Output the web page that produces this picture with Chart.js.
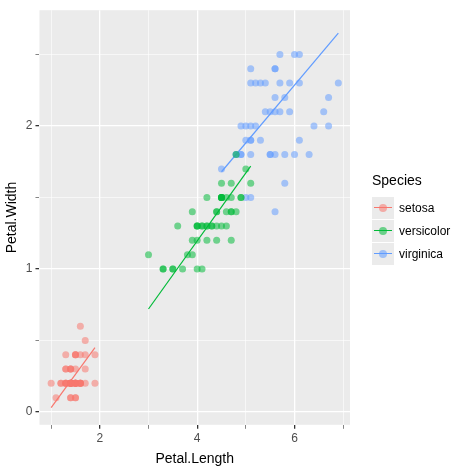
<!DOCTYPE html>
<html><head><meta charset="utf-8">
<script src="https://cdn.jsdelivr.net/npm/chart.js@4"></script>
<style>body{margin:0;background:#fff;font-family:"Liberation Sans",Arial,sans-serif}
#wrap{position:relative;width:472px;height:472px}
#leg{position:absolute;left:372px;top:172px;font-size:14px;color:#000}
.it{display:flex;align-items:center;height:23px;font-size:12px}
.k{width:22px;height:22px;background:#EBEBEB;position:relative;margin-right:5px}
.k i{position:absolute;left:2px;right:2px;top:10px;height:1.5px}
.k b{position:absolute;left:7px;top:7px;width:8px;height:8px;border-radius:50%;opacity:.55}
</style></head><body>
<div id="wrap"><canvas id="c" width="472" height="472"></canvas>
<div id="leg"><div style="margin-bottom:8px">Species</div></div></div>
<script>
const species=["setosa","versicolor","virginica"];
const colors=["#F8766D","#00BA38","#619CFF"];
const setosaLen=[1.4,1.4,1.3,1.5,1.4,1.7,1.4,1.5,1.4,1.5,1.5,1.6,1.4,1.1,1.2,1.5,1.3,1.4,1.7,1.5,1.7,1.5,1.0,1.7,1.9,1.6,1.6,1.5,1.4,1.6,1.6,1.5,1.5,1.4,1.5,1.2,1.3,1.4,1.3,1.5,1.3,1.3,1.3,1.6,1.9,1.4,1.6,1.4,1.5,1.4];
const setosaWid=[0.2,0.2,0.2,0.2,0.2,0.4,0.3,0.2,0.2,0.1,0.2,0.2,0.1,0.1,0.2,0.4,0.4,0.3,0.3,0.3,0.2,0.4,0.2,0.5,0.2,0.2,0.4,0.2,0.2,0.2,0.2,0.4,0.1,0.2,0.2,0.2,0.2,0.1,0.2,0.2,0.3,0.3,0.2,0.6,0.4,0.3,0.2,0.2,0.2,0.2];
const versLen=[4.7,4.5,4.9,4.0,4.6,4.5,4.7,3.3,4.6,3.9,3.5,4.2,4.0,4.7,3.6,4.4,4.5,4.1,4.5,3.9,4.8,4.0,4.9,4.7,4.3,4.4,4.8,5.0,4.5,3.5,3.8,3.7,3.9,5.1,4.5,4.5,4.7,4.4,4.1,4.0,4.4,4.6,4.0,3.3,4.2,4.2,4.2,4.3,3.0,4.1];
const versWid=[1.4,1.5,1.5,1.3,1.5,1.3,1.6,1.0,1.3,1.4,1.0,1.5,1.0,1.4,1.3,1.4,1.5,1.0,1.5,1.1,1.8,1.3,1.5,1.2,1.3,1.4,1.4,1.7,1.5,1.0,1.1,1.0,1.2,1.6,1.5,1.6,1.5,1.3,1.3,1.3,1.2,1.4,1.2,1.0,1.3,1.2,1.3,1.3,1.1,1.3];
const virgLen=[6.0,5.1,5.9,5.6,5.8,6.6,4.5,6.3,5.8,6.1,5.1,5.3,5.5,5.0,5.1,5.3,5.5,6.7,6.9,5.0,5.7,4.9,6.7,4.9,5.7,6.0,4.8,4.9,5.6,5.8,6.1,6.4,5.6,5.1,5.6,6.1,5.6,5.5,4.8,5.4,5.6,5.1,5.1,5.9,5.7,5.2,5.0,5.2,5.4,5.1];
const virgWid=[2.5,1.9,2.1,1.8,2.2,2.1,1.7,1.8,1.8,2.5,2.0,1.9,2.1,2.0,2.4,2.3,1.8,2.2,2.3,1.5,2.3,2.0,2.0,1.8,2.1,1.8,1.8,1.8,2.1,1.6,1.9,2.0,2.2,1.5,1.4,2.3,2.4,1.8,1.8,2.1,2.4,2.3,1.9,2.3,2.5,2.3,1.9,2.0,2.3,1.8];
// fitted line endpoints
const lineX=[[1.0,1.9],[3.0,5.1],[4.5,6.9]];
const lineY=[[0.03,0.45],[0.72,1.72],[1.68,2.65]];
const lens=[setosaLen,versLen,virgLen], wids=[setosaWid,versWid,virgWid];
const ds=[];
species.forEach((s,i)=>{
  ds.push({type:'scatter',data:lens[i].map((x,j)=>({x,y:wids[i][j]})),backgroundColor:colors[i]+'88',borderColor:colors[i]+'88',pointRadius:3.5,borderWidth:0});
});
species.forEach((s,i)=>{
  ds.push({type:'line',data:lineX[i].map((x,j)=>({x,y:lineY[i][j]})),borderColor:colors[i],borderWidth:1.2,pointRadius:0,fill:false});
});
const leg=document.getElementById('leg');
species.forEach((s,i)=>{leg.insertAdjacentHTML('beforeend',`<div class="it"><div class="k"><i style="background:${colors[i]}"></i><b style="background:${colors[i]}"></b></div>${s}</div>`)});
const bg={id:'bg',beforeDraw(c){const a=c.chartArea,x=c.ctx;x.save();x.fillStyle='#EBEBEB';x.fillRect(a.left,a.top,a.right-a.left,a.bottom-a.top);x.restore();}};
const tickFont={size:12,family:'"Liberation Sans",Arial'};
new Chart(document.getElementById('c'),{type:'scatter',data:{datasets:ds},plugins:[bg],
options:{responsive:false,animation:false,layout:{padding:{left:0,right:122,top:5,bottom:0}},
plugins:{legend:{display:false},tooltip:{enabled:false}},
scales:{
x:{type:'linear',min:0.76,max:7.14,afterBuildTicks(s){s.ticks=[1,2,3,4,5,6,7].map(v=>({value:v}));},
 ticks:{color:'#4D4D4D',font:tickFont,callback:v=>v%2===0?v:''},
 grid:{color:'#fff',lineWidth:c=>c.tick&&c.tick.value%2===0?1.3:0.6,drawTicks:true,tickLength:4,tickColor:'#333'},border:{display:false},
 title:{display:true,text:'Petal.Length',color:'#000',font:{size:14,family:'"Liberation Sans",Arial'},padding:{top:2}}},
y:{type:'linear',min:-0.09,max:2.81,afterBuildTicks(s){s.ticks=[0,0.5,1,1.5,2,2.5].map(v=>({value:v}));},
 ticks:{color:'#4D4D4D',font:tickFont,callback:v=>Number.isInteger(v)?v:''},
 grid:{color:'#fff',lineWidth:c=>c.tick&&Number.isInteger(c.tick.value)?1.3:0.6,drawTicks:true,tickLength:4,tickColor:'#333'},border:{display:false},
 title:{display:true,text:'Petal.Width',color:'#000',font:{size:14,family:'"Liberation Sans",Arial'},padding:{bottom:2}}}
}}});
</script></body></html>
